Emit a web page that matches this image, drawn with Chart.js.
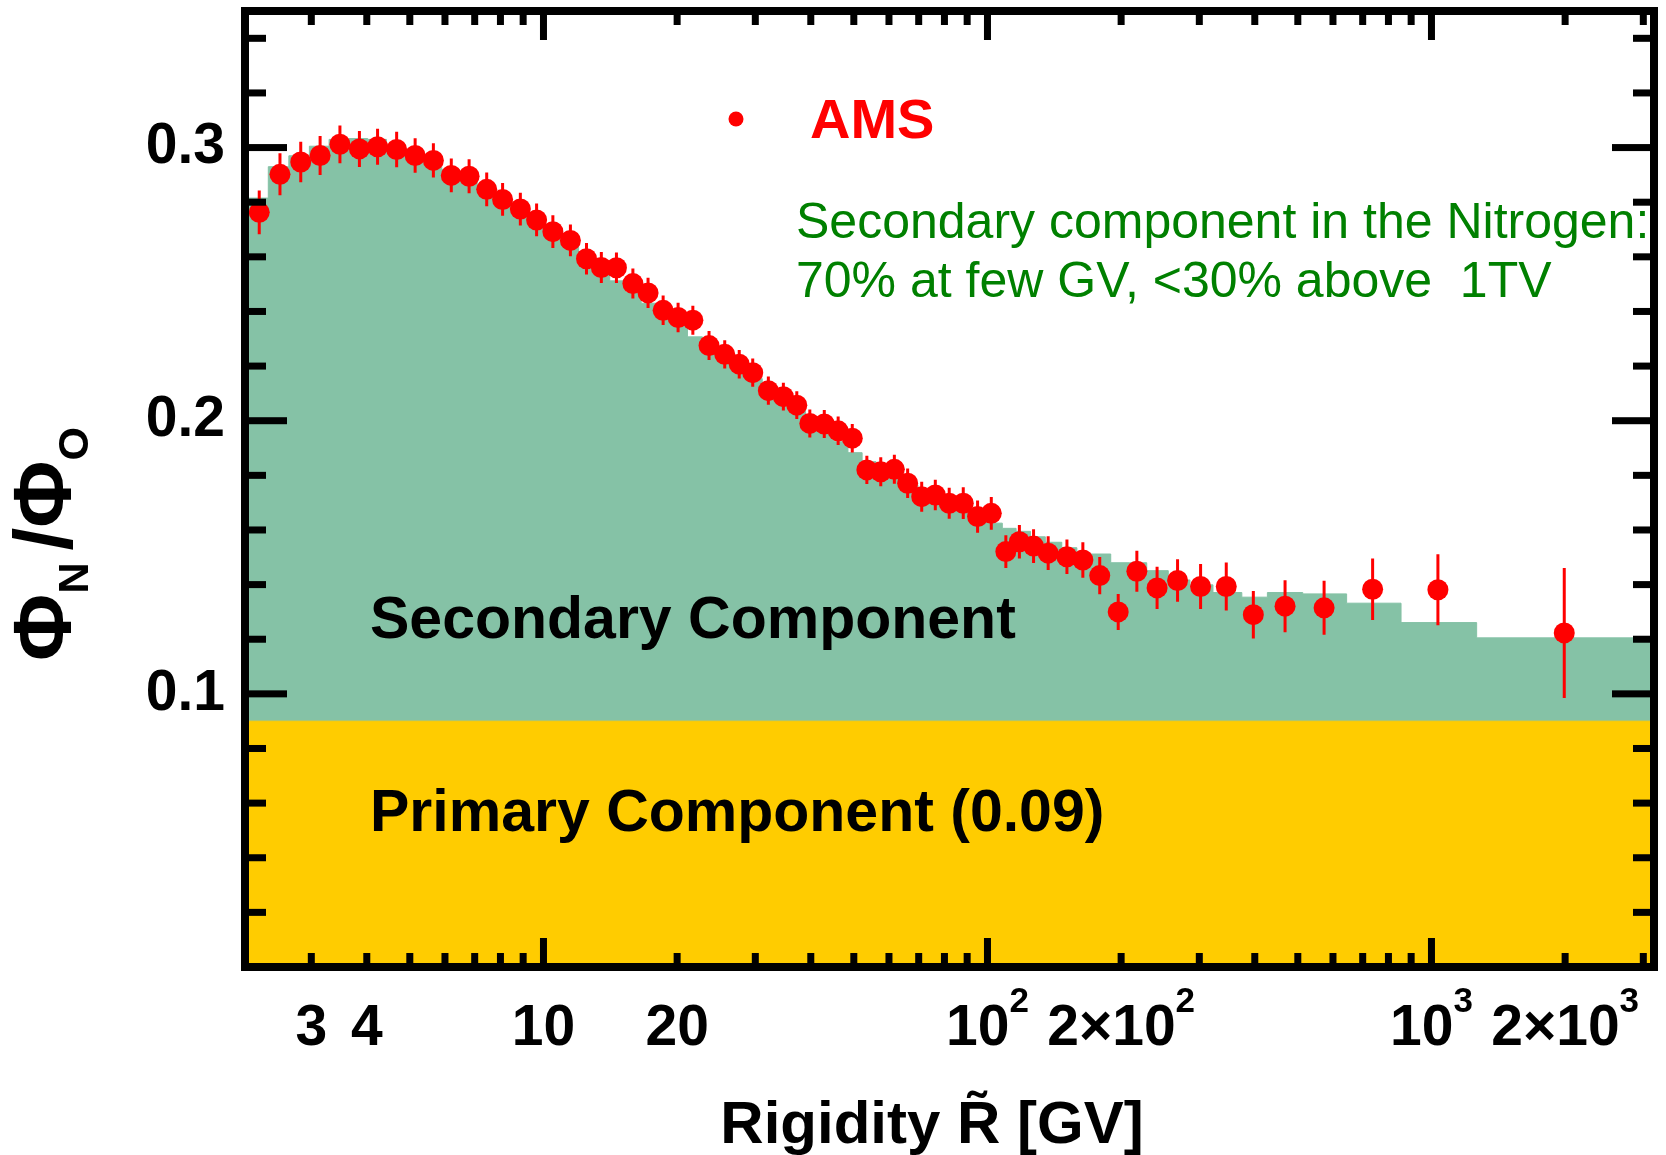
<!DOCTYPE html>
<html>
<head>
<meta charset="utf-8">
<script src="https://cdn.jsdelivr.net/npm/chart.js@4/dist/chart.umd.min.js"></script>
<style>
  html, body { margin: 0; padding: 0; background: #ffffff; }
  #wrap { width: 1666px; height: 1155px; position: relative; }
</style>
</head>
<body>
<div id="wrap"><canvas id="c" width="1666" height="1155"></canvas></div>
<script>
// ---------------- data ----------------
const xValues = [2.29, 2.55, 2.84, 3.14, 3.48, 3.85, 4.23, 4.67, 5.14, 5.65,
  6.20, 6.80, 7.45, 8.09, 8.87, 9.65, 10.5, 11.5, 12.5, 13.5,
  14.6, 15.9, 17.2, 18.6, 20.1, 21.7, 23.6, 25.6, 27.6, 29.6,
  32.1, 34.7, 37.2, 39.8, 42.9, 46.1, 49.6, 53.5, 57.5, 61.7,
  66.1, 71.1, 76.3, 82.0, 88.2, 95.0, 102, 110, 118, 127,
  137, 151, 164, 179, 197, 217, 241, 268, 302, 345,
  397, 468, 573, 737, 1034, 1991];

const yValues = [0.2763, 0.2902, 0.2947, 0.2971, 0.3012, 0.2995, 0.3003, 0.2993, 0.2971, 0.2953,
  0.2898, 0.2895, 0.2847, 0.2810, 0.2775, 0.2735, 0.2692, 0.2660, 0.2593, 0.2561,
  0.2560, 0.2502, 0.2468, 0.2404, 0.2378, 0.2368, 0.2275, 0.2243, 0.2207, 0.2176,
  0.2110, 0.2088, 0.2057, 0.1990, 0.1988, 0.1963, 0.1936, 0.1820, 0.1813, 0.1822,
  0.1771, 0.1722, 0.1728, 0.1698, 0.1698, 0.1649, 0.1661, 0.1521, 0.1557, 0.1541,
  0.1515, 0.1502, 0.1490, 0.1433, 0.1300, 0.1449, 0.1388, 0.1415, 0.1393, 0.1393,
  0.1290, 0.1321, 0.1315, 0.1383, 0.1381, 0.1223];

const yErrors = [0.0080, 0.0077, 0.0074, 0.0071, 0.0069, 0.0066, 0.0066, 0.0065, 0.0063, 0.0063,
  0.0062, 0.0062, 0.0062, 0.0060, 0.0060, 0.0060, 0.0060, 0.0058, 0.0058, 0.0057,
  0.0056, 0.0055, 0.0055, 0.0054, 0.0054, 0.0053, 0.0053, 0.0052, 0.0052, 0.0052,
  0.0052, 0.0051, 0.0051, 0.0051, 0.0051, 0.0052, 0.0052, 0.0052, 0.0053, 0.0053,
  0.0054, 0.0055, 0.0056, 0.0057, 0.0058, 0.0059, 0.0060, 0.0060, 0.0061, 0.0062,
  0.0062, 0.0063, 0.0065, 0.0068, 0.0066, 0.0075, 0.0077, 0.0078, 0.0082, 0.0088,
  0.0087, 0.0095, 0.0099, 0.0113, 0.0130, 0.0238];

// secondary component histogram (bin edges in GV, heights = primary + secondary)
const stepEdges = [2.10, 2.40, 2.67, 2.97, 3.29, 3.64, 4.02, 4.43, 4.88, 5.37,
  5.90, 6.47, 7.09, 7.76, 8.48, 9.26, 10.1, 11.0, 12.0, 13.0,
  14.1, 15.3, 16.6, 18.0, 19.5, 21.1, 22.8, 24.7, 26.7, 28.8,
  31.1, 33.5, 36.1, 38.9, 41.9, 45.1, 48.5, 52.2, 56.1, 60.3,
  64.8, 69.7, 74.9, 80.5, 86.5, 93.0, 100, 108, 116, 125,
  135, 147, 159, 173, 189.5, 209, 228.4, 255.4, 285.8, 322,
  374, 427, 513, 644, 854, 1264, 3300];

const stepHeights = [0.2815, 0.2930, 0.2970, 0.3005, 0.3030, 0.3033, 0.3030, 0.3010, 0.2985, 0.2955,
  0.2920, 0.2885, 0.2850, 0.2810, 0.2775, 0.2735, 0.2690, 0.2645, 0.2600, 0.2555,
  0.2512, 0.2470, 0.2430, 0.2390, 0.2348, 0.2307, 0.2268, 0.2230, 0.2192, 0.2154,
  0.2116, 0.2078, 0.2040, 0.2000, 0.1962, 0.1923, 0.1883, 0.1850, 0.1820, 0.1792,
  0.1765, 0.1740, 0.1715, 0.1692, 0.1670, 0.1650, 0.1625, 0.1606, 0.1595, 0.1575,
  0.1555, 0.1535, 0.1512, 0.1512, 0.1480, 0.1480, 0.1451, 0.1417, 0.1399, 0.1371,
  0.1354, 0.1371, 0.1366, 0.1332, 0.1261, 0.1205];

const primaryLevel = 0.09;

const xTickValues = [3, 4, 10, 20, 100, 200, 1000, 2000];
const xTickBase = ['3', '4', '10', '20', '10', '2\u00D710', '10', '2\u00D710'];
const xTickExp = ['', '', '', '', '2', '2', '3', '3'];
const xMajorTicks = [10, 100, 1000];
const xMinorTicks = [3, 4, 5, 6, 7, 8, 9, 20, 30, 40, 50, 60, 70, 80, 90,
  200, 300, 400, 500, 600, 700, 800, 900, 2000, 3000];
const yTickValues = [0.1, 0.2, 0.3];
const yTickLabels = ['0.1', '0.2', '0.3'];
const yMinorTicks = [0.02, 0.04, 0.06, 0.08, 0.12, 0.14, 0.16, 0.18, 0.22, 0.24, 0.26, 0.28, 0.32, 0.34];

// ---------------- chart ----------------
const FONT = '"Liberation Sans", Arial, Helvetica, sans-serif';
Chart.defaults.font.family = FONT;

const amsPoints = xValues.map((x, i) => ({ x: x, y: yValues[i] }));
const secondarySteps = stepHeights.map((h, i) => ({ x: stepEdges[i], y: h }));
secondarySteps.push({ x: stepEdges[stepEdges.length - 1], y: stepHeights[stepHeights.length - 1] });
const primaryBand = [{ x: stepEdges[0], y: primaryLevel }, { x: stepEdges[stepEdges.length - 1], y: primaryLevel }];

const GREEN = 'rgb(133,194,166)';
const YELLOW = '#FFCC00';
const RED = '#FF0000';

const decor = {
  id: 'decor',
  beforeDatasetDraw(chart, args) {
    if (args.index !== 0) return;
    const { ctx, scales: { x, y } } = chart;
    ctx.save();
    ctx.strokeStyle = RED;
    ctx.lineWidth = 3;
    ctx.beginPath();
    for (let i = 0; i < xValues.length; i++) {
      const px = x.getPixelForValue(xValues[i]);
      ctx.moveTo(px, y.getPixelForValue(yValues[i] + yErrors[i]));
      ctx.lineTo(px, y.getPixelForValue(yValues[i] - yErrors[i]));
    }
    ctx.stroke();
    ctx.restore();
  },
  afterDatasetsDraw(chart) {
    const { ctx, chartArea: a, scales: { x, y } } = chart;
    ctx.save();
    // ticks (inward, all four sides)
    ctx.fillStyle = '#000';
    const tw = 7;
    const xt = (v, len) => {
      const px = x.getPixelForValue(v);
      ctx.fillRect(px - tw / 2, a.top, tw, len);
      ctx.fillRect(px - tw / 2, a.bottom - len, tw, len);
    };
    xMajorTicks.forEach(v => xt(v, 29));
    xMinorTicks.forEach(v => xt(v, 14));
    const yt = (v, len) => {
      const py = y.getPixelForValue(v);
      ctx.fillRect(a.left, py - tw / 2, len, tw);
      ctx.fillRect(a.right - len, py - tw / 2, len, tw);
    };
    yTickValues.forEach(v => yt(v, 42));
    yMinorTicks.forEach(v => yt(v, 21));
    // frame
    ctx.strokeStyle = '#000';
    ctx.lineWidth = 8;
    ctx.strokeRect(a.left, a.top, a.right - a.left, a.bottom - a.top);

    // x tick labels with superscript exponents
    ctx.fillStyle = '#000';
    ctx.textBaseline = 'alphabetic';
    ctx.textAlign = 'left';
    const baseFont = 'bold 57px ' + FONT, expFont = 'bold 35px ' + FONT;
    xTickValues.forEach((v, i) => {
      ctx.font = baseFont;
      const wb = ctx.measureText(xTickBase[i]).width;
      ctx.font = expFont;
      const we = xTickExp[i] ? ctx.measureText(xTickExp[i]).width : 0;
      const left = x.getPixelForValue(v) - (wb + we) / 2;
      ctx.font = baseFont;
      ctx.fillText(xTickBase[i], left, a.bottom + 78);
      if (xTickExp[i]) {
        ctx.font = expFont;
        ctx.fillText(xTickExp[i], left + wb, a.bottom + 45);
      }
    });

    // legend
    ctx.fillStyle = RED;
    ctx.beginPath();
    ctx.arc(736, 119, 7.5, 0, Math.PI * 2);
    ctx.fill();
    ctx.font = 'bold 56px ' + FONT;
    ctx.textAlign = 'left';
    ctx.fillText('AMS', 810, 138);

    // green note
    ctx.fillStyle = '#008000';
    ctx.font = '50px ' + FONT;
    ctx.fillText('Secondary component in the Nitrogen:', 796, 238);
    ctx.fillText('70% at few GV, <30% above  1TV', 796, 297);

    // component labels
    ctx.fillStyle = '#000';
    ctx.font = 'bold 59px ' + FONT;
    ctx.fillText('Secondary Component', 370, 638);
    ctx.fillText('Primary Component (0.09)', 370, 831);

    // x axis title
    ctx.font = 'bold 60px ' + FONT;
    ctx.textAlign = 'center';
    ctx.fillText('Rigidity R\u0303 [GV]', 932, 1143);

    // y axis title (rotated, with subscripts)
    const big = 'bold 82px ' + FONT, small = 'bold 43px ' + FONT;
    const parts = [['\u03A6', big, 0], ['N ', small, 17], ['/', big, 0], ['\u03A6', big, 0], ['O', small, 17]];
    ctx.textAlign = 'left';
    let total = 0;
    parts.forEach(p => { ctx.font = p[1]; total += ctx.measureText(p[0]).width; });
    ctx.translate(71, 544);
    ctx.rotate(-Math.PI / 2);
    let u = -total / 2;
    parts.forEach(p => {
      ctx.font = p[1];
      ctx.fillText(p[0], u, p[2]);
      u += ctx.measureText(p[0]).width;
    });
    ctx.restore();
  }
};

new Chart(document.getElementById('c'), {
  type: 'line',
  data: {
    datasets: [
      {
        label: 'AMS',
        data: amsPoints,
        showLine: false,
        pointRadius: 10.5,
        pointHoverRadius: 10.5,
        pointBackgroundColor: RED,
        pointBorderColor: RED,
        pointBorderWidth: 0
      },
      {
        label: 'Primary Component (0.09)',
        data: primaryBand,
        pointRadius: 0,
        borderColor: YELLOW,
        borderWidth: 1,
        backgroundColor: YELLOW,
        fill: 'origin'
      },
      {
        label: 'Secondary Component',
        data: secondarySteps,
        stepped: 'before',
        pointRadius: 0,
        borderColor: GREEN,
        borderWidth: 1,
        backgroundColor: GREEN,
        fill: 'origin'
      }
    ]
  },
  options: {
    responsive: false,
    animation: false,
    devicePixelRatio: 1,
    events: [],
    layout: { padding: { left: 0, right: 12, top: 11, bottom: 0 } },
    plugins: { legend: { display: false }, tooltip: { enabled: false }, title: { display: false } },
    scales: {
      x: {
        type: 'logarithmic',
        min: 2.127,
        max: 3171,
        grid: { display: false, drawTicks: false },
        border: { display: false },
        afterBuildTicks: s => { s.ticks = xTickValues.map(v => ({ value: v })); },
        afterFit: s => { s.height = 188; s.paddingLeft = 0; s.paddingRight = 0; },
        ticks: { display: false, autoSkip: false, maxRotation: 0, minRotation: 0 }
      },
      y: {
        type: 'linear',
        min: 0,
        max: 0.35,
        grid: { display: false, drawTicks: false },
        border: { display: false },
        afterBuildTicks: s => { s.ticks = yTickValues.map(v => ({ value: v })); },
        afterFit: s => { s.width = 245; s.paddingTop = 0; s.paddingBottom = 0; },
        ticks: {
          padding: 20, color: '#000', font: { size: 57, weight: 'bold' },
          callback: (v, i) => yTickLabels[i]
        }
      }
    }
  },
  plugins: [decor]
});
</script>
</body>
</html>
